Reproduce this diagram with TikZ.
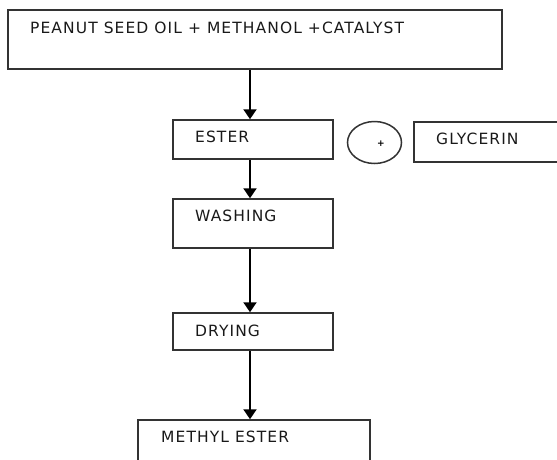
\documentclass[tikz,border=0pt]{standalone}
\usepackage{fontspec}
\setmainfont{DejaVu Sans}[LetterSpace=7]
\usetikzlibrary{arrows.meta,shapes.geometric}
\begin{document}
\begin{tikzpicture}[x=1pt,y=-1pt,
  box/.style={draw=black!80, line width=1.5pt, inner sep=0pt},
  lbl/.style={anchor=west, inner sep=0pt, font=\fontsize{15.5}{18}\selectfont, text=black!90},
  arr/.style={draw=black, line width=2pt, -{Triangle[width=13pt,length=10pt]}}]
\useasboundingbox (0,0) rectangle (557,459);
% boxes
\node[box, minimum width=494pt, minimum height=59pt] (top) at (255,39.5) {};
\node[box, minimum width=160pt, minimum height=39pt] (ester) at (253,139.5) {};
\node[box, minimum width=151pt, minimum height=40pt] (glyc) at (489.5,142) {};
\node[box, ellipse, minimum width=54pt, minimum height=42pt] (plus) at (374.5,142.5) {};
\node[box, minimum width=160pt, minimum height=49pt] (wash) at (253,223.5) {};
\node[box, minimum width=160pt, minimum height=37pt] (dry) at (253,331.5) {};
\node[box, minimum width=232pt, minimum height=55pt] (meth) at (254,447.5) {};
% labels
\node[lbl] (ttop) at (30,28) {PEANUT SEED OIL + METHANOL +CATALYST};
\node[lbl] (tester) at (195,137) {ESTER};
\node[lbl] (tglyc) at (436,139) {GLYCERIN};
\node[lbl] (twash) at (195,216) {WASHING};
\node[lbl] (tdry) at (195,331) {DRYING};
\node[lbl] (tmeth) at (161,437) {METHYL ESTER};
\node[inner sep=0pt, font=\fontsize{9}{10}\bfseries] (tplus) at (381,144) {+};
% arrows
\coordinate (ax) at (250,0);
\draw[arr] (top.south -| ax) -- (ester.north -| ax);
\draw[arr] (ester.south -| ax) -- (wash.north -| ax);
\draw[arr] (wash.south -| ax) -- (dry.north -| ax);
\draw[arr] (dry.south -| ax) -- (meth.north -| ax);
\end{tikzpicture}
\end{document}
